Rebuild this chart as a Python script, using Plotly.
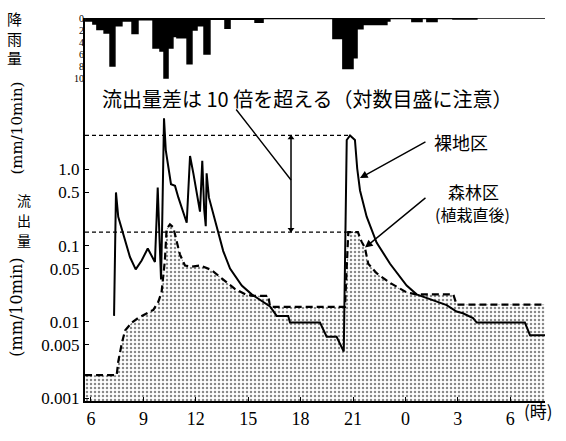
import plotly.graph_objects as go

# ---------------------------------------------------------------------------
# Data (time in hours from 06:00 of day 1; 24 = midnight, 30 = 06:00 next day)
# ---------------------------------------------------------------------------
hour_ticks = [6, 9, 12, 15, 18, 21, 24, 27, 30]
hour_labels = ["6", "9", "12", "15", "18", "21", "0", "3", "6"]

flow_ticks = [1.0, 0.5, 0.1, 0.05, 0.01, 0.005, 0.001]
flow_labels = ["1.0", "0.5", "0.1", "0.05", "0.01", "0.005", "0.001"]

rain_ticks = [0, 2, 4, 6, 8, 10]

# rainfall (mm/10min), step series: each value holds from its start hour
rain_start_h = [5.66, 6.11, 6.34, 6.75, 7.09, 7.37, 7.77, 8.35, 8.69, 9.55,
                9.95, 10.18, 10.41, 10.69, 10.92, 11.50, 11.78, 12.07, 12.47,
                12.81, 13.67, 13.96, 15.39, 15.85, 19.85, 20.42, 21.00, 21.23,
                21.57, 22.94, 23.11, 24.37, 24.95, 25.23, 25.81, 26.72, 28.09,
                31.99]
rain_mm = [0.5, 1.0, 1.9, 2.5, 8.0, 1.3, 0.5, 2.6, 0.3, 5.0,
           5.5, 10.0, 5.0, 3.1, 3.3, 7.6, 2.0, 1.3, 6.0,
           0.2, 1.7, 0.2, 0.7, 0.1, 3.4, 8.4, 6.6, 1.8,
           1.1, 0.5, 0.1, 0.6, 0.1, 0.6, 0.1, 0.15, 0.0,
           0.0]

# runoff, bare-soil plot (mm/10min)
bare_h = [7.32, 7.43, 7.56, 7.85, 8.23, 8.56, 8.90, 9.25, 9.47, 9.66,
          9.76, 9.82, 9.89, 10.01, 10.08, 10.18, 10.28, 10.58, 10.81, 11.00,
          11.48, 11.67, 11.86, 12.24, 12.37, 12.48, 12.57, 12.62, 12.75, 13.29,
          13.57, 13.96, 14.63, 15.20, 15.77, 16.25, 16.63, 17.29, 17.39, 19.11,
          19.49, 20.06, 20.47, 20.52, 20.64, 20.83, 21.11, 21.24, 21.40, 21.78,
          22.35, 23.12, 24.07, 24.64, 25.58, 26.36, 26.93, 27.29, 27.87, 28.08,
          30.84, 31.13, 31.99]
bare_q = [0.012, 0.50, 0.24, 0.14, 0.071, 0.049, 0.064, 0.092, 0.074, 0.061,
          0.24, 0.58, 0.20, 0.036, 0.22, 4.7, 1.8, 0.64, 0.61, 0.43,
          0.20, 1.5, 0.89, 0.28, 1.3, 0.30, 0.18, 0.89, 0.43, 0.15,
          0.085, 0.050, 0.030, 0.023, 0.019, 0.016, 0.012, 0.012, 0.0098, 0.0098,
          0.0064, 0.0064, 0.0041, 0.05, 2.44, 2.8, 2.44, 1.03, 0.53, 0.24,
          0.11, 0.058, 0.030, 0.023, 0.019, 0.0166, 0.0137, 0.0130, 0.0112, 0.0098,
          0.0098, 0.0067, 0.0067]

# runoff, forest plot just after planting (mm/10min)
forest_h = [5.66, 7.47, 7.56, 7.76, 7.95, 8.33, 8.71, 9.19, 9.57, 9.85,
            10.04, 10.23, 10.33, 10.52, 10.71, 10.91, 11.09, 11.38, 11.76, 12.24,
            12.90, 13.50, 14.25, 14.85, 15.27, 16.15, 16.25, 20.44, 20.54, 20.73,
            20.94, 21.28, 21.49, 21.68, 21.87, 22.35, 23.12, 24.07, 24.64, 26.74,
            26.93, 31.99]
forest_q = [0.0020, 0.0020, 0.0030, 0.0052, 0.0077, 0.0098, 0.0113, 0.0131, 0.0144, 0.0183,
            0.0244, 0.064, 0.166, 0.19, 0.174, 0.113, 0.077, 0.055, 0.053, 0.055,
            0.048, 0.037, 0.027, 0.023, 0.022, 0.022, 0.0158, 0.0158, 0.0158, 0.151,
            0.151, 0.151, 0.113, 0.094, 0.058, 0.0435, 0.0325, 0.0244, 0.023, 0.023,
            0.0169, 0.0169]

# hour at which the peak difference of the second storm is marked
diff_marker_h = 17.45

# ---------------------------------------------------------------------------
# Layout geometry
# ---------------------------------------------------------------------------
W, H = 566, 441
ML, MR, MT, MB = 85, 21, 12, 27
X_RANGE = [5.657, 31.99]
LOG_RANGE = [-3.0375, 1.9875]
RAIN_RANGE = [10.79, 0]
RAIN_BOTTOM_PX = 80

PW, PH = W - ML - MR, H - MT - MB


def paper(x_px, y_px):
    return (x_px - ML) / PW, (H - MB - y_px) / PH


SERIF = "Liberation Serif"
CJK = "Noto Sans CJK JP"

second = [i for i, h in enumerate(bare_h) if h > 20]
peak_bare = max(bare_q[i] for i in second)
peak_bare_h = bare_h[max(second, key=lambda i: bare_q[i])]
peak_forest = max(q for h, q in zip(forest_h, forest_q) if h > 20)

floor_q = 10 ** (LOG_RANGE[0] - 0.5)

fig = go.Figure()

# stippled area under the forest hydrograph
fig.add_trace(go.Scatter(
    x=[X_RANGE[0], X_RANGE[1]], y=[floor_q, floor_q], mode="lines",
    line=dict(width=0, color="rgba(0,0,0,0)"), hoverinfo="skip", showlegend=False))
fig.add_trace(go.Scatter(
    x=forest_h, y=forest_q, mode="lines", fill="tonexty",
    fillcolor="white",
    fillpattern=dict(shape=".", fgcolor="#111111", bgcolor="white", size=4, solidity=0.3),
    line=dict(color="black", width=2.2, dash="7px,4px"),
    showlegend=False, name="森林区"))

# bare-soil hydrograph
fig.add_trace(go.Scatter(
    x=bare_h, y=bare_q, mode="lines",
    line=dict(color="black", width=2), showlegend=False, name="裸地区"))

# peak reference lines
fig.add_trace(go.Scatter(
    x=[X_RANGE[0], peak_bare_h], y=[peak_bare, peak_bare], mode="lines",
    line=dict(color="black", width=1.3, dash="4px,3px"), showlegend=False))
fig.add_trace(go.Scatter(
    x=[X_RANGE[0], 21.0], y=[peak_forest, peak_forest], mode="lines",
    line=dict(color="black", width=1.3, dash="4px,3px"), showlegend=False))

# double-headed marker of the peak difference
fig.add_trace(go.Scatter(
    x=[diff_marker_h, diff_marker_h], y=[peak_bare, peak_forest], mode="lines",
    line=dict(color="black", width=1.5), showlegend=False))
fig.add_trace(go.Scatter(
    x=[diff_marker_h, diff_marker_h], y=[peak_bare * 0.93, peak_forest * 1.08],
    mode="markers",
    marker=dict(symbol=["triangle-up", "triangle-down"], size=6, color="black"),
    showlegend=False))

# hyetograph hanging from the top
fig.add_trace(go.Scatter(
    x=rain_start_h, y=rain_mm, yaxis="y2", mode="lines", line_shape="hv",
    fill="tozeroy", fillcolor="black",
    line=dict(color="black", width=1.5), showlegend=False, name="降雨量"))

annotations = []


def text_at(x_px, y_px, text, size, font=CJK, xanchor="center", angle=0):
    xp, yp = paper(x_px, y_px)
    annotations.append(dict(
        x=xp, y=yp, xref="paper", yref="paper", text=text, showarrow=False,
        xanchor=xanchor, yanchor="middle", textangle=angle,
        font=dict(family=font, size=size, color="black")))


text_at(100, 97, "流出量差は 10 倍を超える（対数目盛に注意）", 20, xanchor="left")
text_at(432, 142, "裸地区", 18, xanchor="left")
text_at(473, 194, "森林区", 17)
text_at(472, 218, "(植栽直後)", 16)

text_at(14, 33, "降<br>雨<br>量", 15)
for ch, yy in zip("流出量", [203, 224, 245]):
    text_at(24, yy, ch, 14)
text_at(17, 128, "(mm/10min)", 15, font="DejaVu Serif", angle=-90)
text_at(17, 316, "(mm/10min)", 16, font="DejaVu Serif", angle=-90)
text_at(522, 424, "(時)", 17, xanchor="left")


def log_y(y_px):
    return (171 - y_px) / 80.0


def hour_x(x_px):
    return 6 + (x_px - 91) / 17.47


# leader from the caption to the difference marker
annotations.append(dict(
    x=diff_marker_h, y=log_y(182), xref="x", yref="y", ax=-56, ay=-72,
    showarrow=True, arrowhead=0, arrowwidth=1.4, arrowcolor="black", text=""))
# pointers to each hydrograph
annotations.append(dict(
    x=hour_x(360), y=log_y(180), xref="x", yref="y", ax=67, ay=-37,
    showarrow=True, arrowhead=2, arrowsize=1.1, arrowwidth=1.4,
    arrowcolor="black", text=""))
annotations.append(dict(
    x=hour_x(365), y=log_y(253), xref="x", yref="y", ax=62, ay=-51,
    showarrow=True, arrowhead=2, arrowsize=1.1, arrowwidth=1.4,
    arrowcolor="black", text=""))

fig.update_layout(
    width=W, height=H,
    margin=dict(l=ML, r=MR, t=MT, b=MB, pad=0),
    paper_bgcolor="white", plot_bgcolor="white",
    showlegend=False,
    annotations=annotations,
    xaxis=dict(
        range=X_RANGE, tickvals=hour_ticks, ticktext=hour_labels,
        showline=True, linecolor="black", linewidth=2, mirror=False,
        ticks="inside", ticklen=4, tickcolor="black",
        showgrid=False, zeroline=False,
        tickfont=dict(family=SERIF, size=18, color="black")),
    yaxis=dict(
        type="log", range=LOG_RANGE, tickvals=flow_ticks, ticktext=flow_labels,
        showline=True, linecolor="black", linewidth=2,
        ticks="inside", ticklen=4, tickcolor="black",
        showgrid=False, zeroline=False,
        tickfont=dict(family=SERIF, size=17, color="black")),
    yaxis2=dict(
        domain=[(H - MB - RAIN_BOTTOM_PX) / PH, 1], anchor="x",
        range=RAIN_RANGE, tickvals=rain_ticks,
        showline=False, ticks="", showgrid=False, zeroline=False,
        tickfont=dict(family=SERIF, size=10, color="black")),
)

fig.write_html("out.html")
